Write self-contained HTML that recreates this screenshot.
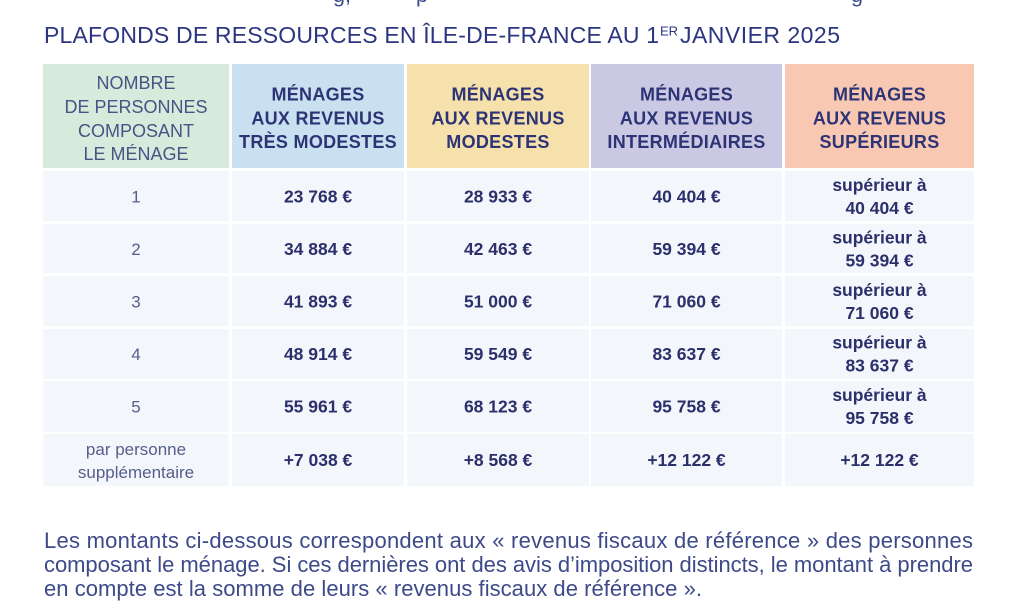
<!DOCTYPE html>
<html>
<head>
<meta charset="utf-8">
<style>
html,body{margin:0;padding:0;background:#ffffff;}
svg{display:block;}
.t{font-family:"Liberation Sans",sans-serif;}
</style>
</head>
<body>
<svg width="1024" height="610" viewBox="0 0 1024 610" xmlns="http://www.w3.org/2000/svg" class="t">
<rect x="0" y="0" width="1024" height="610" fill="#ffffff"/>

<!-- partial text at top -->
<g font-family="Liberation Sans, sans-serif" font-size="21.5" fill="#3d4a8a">
<text x="333" y="2">g,</text>
<text x="416" y="2">p</text>
<text x="851" y="2">g</text>
</g>

<!-- Title -->
<g font-family="Liberation Sans, sans-serif" fill="#2b3580">
<text x="44" y="43" font-size="23" textLength="615" lengthAdjust="spacing">PLAFONDS DE RESSOURCES EN ÎLE-DE-FRANCE AU 1</text>
<text x="660" y="35.5" font-size="13">ER</text>
<text x="680" y="43" font-size="23" textLength="160" lengthAdjust="spacing">JANVIER 2025</text>
</g>

<!-- Header backgrounds -->
<rect x="43" y="64" width="186" height="104" fill="#d8eadb"/>
<rect x="232" y="64" width="172" height="104" fill="#c8e0f0"/>
<rect x="407" y="64" width="182" height="104" fill="#f6e0ab"/>
<rect x="591" y="64" width="191" height="104" fill="#cbc8e4"/>
<rect x="785" y="64" width="189" height="104" fill="#f8c8b2"/>

<!-- Body backgrounds -->
<g fill="#f3f7fb">
<rect x="43" y="171" width="186" height="50"/><rect x="232" y="171" width="172" height="50"/><rect x="407" y="171" width="182" height="50"/><rect x="591" y="171" width="191" height="50"/><rect x="785" y="171" width="189" height="50"/>
<rect x="43" y="224" width="186" height="49"/><rect x="232" y="224" width="172" height="49"/><rect x="407" y="224" width="182" height="49"/><rect x="591" y="224" width="191" height="49"/><rect x="785" y="224" width="189" height="49"/>
<rect x="43" y="276" width="186" height="50"/><rect x="232" y="276" width="172" height="50"/><rect x="407" y="276" width="182" height="50"/><rect x="591" y="276" width="191" height="50"/><rect x="785" y="276" width="189" height="50"/>
<rect x="43" y="329" width="186" height="50"/><rect x="232" y="329" width="172" height="50"/><rect x="407" y="329" width="182" height="50"/><rect x="591" y="329" width="191" height="50"/><rect x="785" y="329" width="189" height="50"/>
<rect x="43" y="381" width="186" height="51"/><rect x="232" y="381" width="172" height="51"/><rect x="407" y="381" width="182" height="51"/><rect x="591" y="381" width="191" height="51"/><rect x="785" y="381" width="189" height="51"/>
<rect x="43" y="434" width="186" height="52"/><rect x="232" y="434" width="172" height="52"/><rect x="407" y="434" width="182" height="52"/><rect x="591" y="434" width="191" height="52"/><rect x="785" y="434" width="189" height="52"/>
</g>

<!-- Header text col1 -->
<g font-family="Liberation Sans, sans-serif" font-size="18" fill="#4b5285" text-anchor="middle">
<text x="136" y="89">NOMBRE</text>
<text x="136" y="113">DE PERSONNES</text>
<text x="136" y="137">COMPOSANT</text>
<text x="136" y="160">LE MÉNAGE</text>
</g>

<!-- Header text other cols -->
<g font-family="Liberation Sans, sans-serif" font-size="18" font-weight="bold" fill="#2d3475" text-anchor="middle" letter-spacing="0.3">
<text x="318" y="100.5">MÉNAGES</text>
<text x="318" y="124.5">AUX REVENUS</text>
<text x="318" y="148">TRÈS MODESTES</text>
<text x="498" y="100.5">MÉNAGES</text>
<text x="498" y="124.5">AUX REVENUS</text>
<text x="498" y="148">MODESTES</text>
<text x="686.5" y="100.5">MÉNAGES</text>
<text x="686.5" y="124.5">AUX REVENUS</text>
<text x="686.5" y="148">INTERMÉDIAIRES</text>
<text x="879.5" y="100.5">MÉNAGES</text>
<text x="879.5" y="124.5">AUX REVENUS</text>
<text x="879.5" y="148">SUPÉRIEURS</text>
</g>

<!-- Body col1 -->
<g font-family="Liberation Sans, sans-serif" font-size="17" fill="#565d8c" text-anchor="middle">
<text x="136" y="202.5">1</text>
<text x="136" y="255">2</text>
<text x="136" y="307.5">3</text>
<text x="136" y="360">4</text>
<text x="136" y="412.5">5</text>
<text x="136" y="455">par personne</text>
<text x="136" y="478">supplémentaire</text>
</g>

<!-- Body values -->
<g font-family="Liberation Sans, sans-serif" font-size="17.5" font-weight="bold" fill="#2b2f6b" text-anchor="middle">
<text x="318" y="202.5">23 768 €</text>
<text x="498" y="202.5">28 933 €</text>
<text x="686.5" y="202.5">40 404 €</text>
<text x="879.5" y="191">supérieur à</text>
<text x="879.5" y="214">40 404 €</text>

<text x="318" y="255">34 884 €</text>
<text x="498" y="255">42 463 €</text>
<text x="686.5" y="255">59 394 €</text>
<text x="879.5" y="243.5">supérieur à</text>
<text x="879.5" y="266.5">59 394 €</text>

<text x="318" y="307.5">41 893 €</text>
<text x="498" y="307.5">51 000 €</text>
<text x="686.5" y="307.5">71 060 €</text>
<text x="879.5" y="296">supérieur à</text>
<text x="879.5" y="319">71 060 €</text>

<text x="318" y="360">48 914 €</text>
<text x="498" y="360">59 549 €</text>
<text x="686.5" y="360">83 637 €</text>
<text x="879.5" y="348.5">supérieur à</text>
<text x="879.5" y="371.5">83 637 €</text>

<text x="318" y="412.5">55 961 €</text>
<text x="498" y="412.5">68 123 €</text>
<text x="686.5" y="412.5">95 758 €</text>
<text x="879.5" y="401">supérieur à</text>
<text x="879.5" y="424">95 758 €</text>

<text x="318" y="466">+7 038 €</text>
<text x="498" y="466">+8 568 €</text>
<text x="686.5" y="466">+12 122 €</text>
<text x="879.5" y="466">+12 122 €</text>
</g>

<!-- Paragraph -->
<g font-family="Liberation Sans, sans-serif" font-size="22" fill="#3d4a8a">
<text x="44" y="548" textLength="929" lengthAdjust="spacing">Les montants ci-dessous correspondent aux « revenus fiscaux de référence » des personnes</text>
<text x="44" y="572" textLength="929" lengthAdjust="spacing">composant le ménage. Si ces dernières ont des avis d’imposition distincts, le montant à prendre</text>
<text x="44" y="596" textLength="658" lengthAdjust="spacing">en compte est la somme de leurs « revenus fiscaux de référence ».</text>
</g>
</svg>
</body>
</html>
